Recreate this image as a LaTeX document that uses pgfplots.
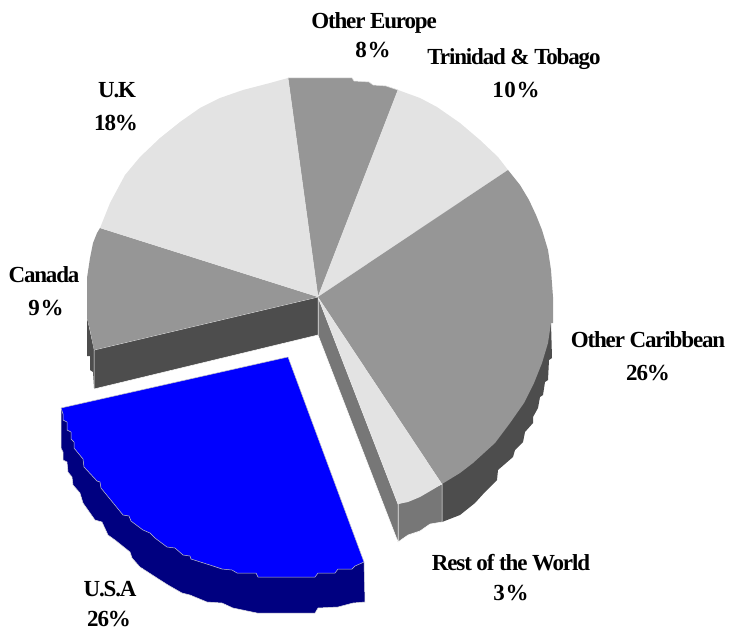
\documentclass[border=0pt]{standalone}
\usepackage{fontspec}
\setmainfont{Liberation Serif}[LetterSpace=-5]
\usepackage{pgfplots}
\pgfplotsset{compat=1.18}
\definecolor{lightsl}{HTML}{E3E3E3}
\definecolor{graysl}{HTML}{969696}
\definecolor{darkwall}{HTML}{4D4D4D}
\definecolor{midwall}{HTML}{777777}
\definecolor{usatop}{HTML}{0000FF}
\definecolor{usaside}{HTML}{000080}
\tikzset{lab/.style={font=\bfseries\fontsize{23}{23}\selectfont, anchor=base, inner sep=0pt}}
\newcommand{\wide}{\addfontfeature{LetterSpace=3}}
\begin{document}
\begin{tikzpicture}
\begin{axis}[
    scale only axis,
    width=731pt,
    height=631pt,
    xmin=0, xmax=731,
    ymin=0, ymax=631,
    y dir=reverse,
    hide axis,
    clip=false,
    every axis plot/.append style={line width=0.5pt, line join=round},
]
\path (rel axis cs:0,0) rectangle (rel axis cs:1,1);
% walls first
\addplot[fill=darkwall, draw=none] coordinates {(551,323)(552,358)(549,360)(548,380)(545,382)(543,395)(540,397)(538,408)(533,417)(533,423)(525,432)(523,442)(515,450)(513,457)(498,470)(497,480)(485,492)(475,503)(460,515)(442,522)(442,484)} --cycle;
\addplot[fill=midwall, draw=white] coordinates {(442,484)(442,522)(430,524)(420,531)(408,535)(398,542)(398,504)} --cycle;
\addplot[fill=midwall, draw=white] coordinates {(318,297)(398,504)(398,542)(318,335)} --cycle;
\addplot[fill=darkwall, draw=none] coordinates {(87,318)(87,356)(90,356)(90,370)(93,372)(94,388)(94,350)} --cycle;
\addplot[fill=darkwall, draw=white] coordinates {(94,350)(318,297)(318,335)(94,389)} --cycle;
% top of the pie
\addplot[fill=graysl, draw=lightsl] coordinates {(318,297)(288,78)(352,78)(354,81)(369,82)(373,85)(386,86)(398,90)} --cycle;
\addplot[fill=lightsl, draw=none] coordinates {(318,297)(398,90)(420,98)(437,107)(460,123)(480,140)(498,157)(508,170)} --cycle;
\addplot[fill=graysl, draw=none] coordinates {(318,297)(508,170)(520,185)(529,200)(536,215)(542,230)(548,250)(551,270)(553,297)(553,323)(551,323)(548,343)(542,363)(534,383)(524,403)(510,423)(495,443)(473,463)(460,473)(442,484)} --cycle;
\addplot[fill=lightsl, draw=none] coordinates {(318,297)(442,484)(432,490)(420,497)(408,502)(398,504)} --cycle;
\addplot[fill=graysl, draw=none] coordinates {(318,297)(94,350)(90,330)(87,318)(87,278)(90,258)(93,243)(97,233)(100,228)} --cycle;
\addplot[fill=lightsl, draw=none] coordinates {(318,297)(100,228)(110,203)(125,175)(140,157)(160,138)(180,122)(200,108)(220,98)(243,90)(270,83)(288,78)} --cycle;
% exploded slice
\addplot[fill=usaside, draw=lightsl] coordinates {(61,408)(61,448)(63,452)(63,460)(67,462)(68,472)(72,477)(73,485)(80,493)(83,503)(95,520)(102,522)(108,535)(115,540)(130,552)(132,558)(140,567)(157,578)(168,585)(182,593)(190,595)(207,602)(222,603)(233,608)(257,613)(315,613)(318,608)(338,607)(353,603)(365,602)(364,562)} --cycle;
\addplot[fill=usatop, draw=lightsl!70!gray] coordinates {(288,357)(61,408)(63,414)(63,420)(67,422)(67,430)(71,432)(71,439)(74,442)(74,448)(83,459)(84,467)(97,481)(100,482)(101,488)(123,515)(129,516)(131,521)(143,530)(150,533)(155,538)(167,547)(175,548)(183,555)(190,556)(191,559)(213,566)(222,569)(232,570)(237,573)(256,573)(258,577)(315,577)(318,573)(335,573)(338,569)(352,569)(355,566)(364,562)} --cycle;
% labels
\node[lab] at (axis cs:374,29) {Other Europe};
\node[lab] at (axis cs:373,58) {\wide 8\%};
\node[lab] at (axis cs:514,65) {Trinidad \& Tobago};
\node[lab] at (axis cs:516,98) {\wide 10\%};
\node[lab] at (axis cs:117,98) {U.K};
\node[lab] at (axis cs:116,131) {18\%};
\node[lab] at (axis cs:44,282) {Canada};
\node[lab] at (axis cs:46,315) {\wide 9\%};
\node[lab] at (axis cs:648,347) {Other Caribbean};
\node[lab] at (axis cs:648,380) {26\%};
\node[lab] at (axis cs:511,570) {Rest of the World};
\node[lab] at (axis cs:511,600) {\wide 3\%};
\node[lab] at (axis cs:110,596) {U.S.A};
\node[lab] at (axis cs:109,626) {26\%};
\end{axis}
\end{tikzpicture}
\end{document}
